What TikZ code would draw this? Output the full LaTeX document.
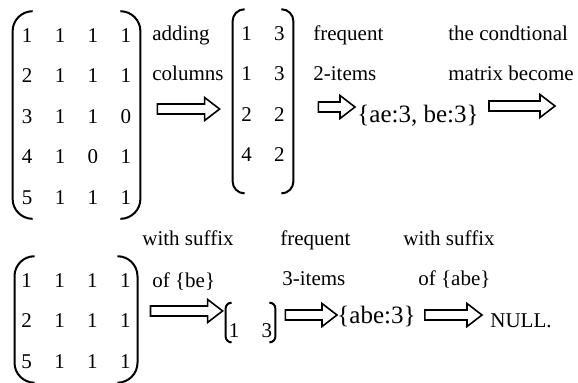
\documentclass[tikz,border=0pt]{standalone}
\usepackage{fontspec}
\setmainfont{Liberation Serif}
\usetikzlibrary{calc}
\tikzset{
  mat/.style={inner ysep=1pt,inner xsep=4pt,anchor=base,font=\fontsize{10.5}{12}\selectfont,
    execute at begin node={\renewcommand{\arraystretch}{1.69}\setlength{\tabcolsep}{5.6pt}}},
  paren/.style={line width=1pt},
  lbl/.style={anchor=base west,inner sep=0pt,font=\fontsize{10.5}{12}\selectfont},
  res/.style={anchor=base west,inner sep=0pt,font=\fontsize{12.5}{14}\selectfont},
  hollow/.style={draw,line width=0.8pt,line join=miter,to path={
    let \p1=(\tikztostart), \p2=(\tikztotarget) in
    (\x1,\y1+2.5pt) -- (\x2-7.5pt,\y1+2.5pt) -- (\x2-7.5pt,\y1+5.75pt) -- (\x2,\y1)
    -- (\x2-7.5pt,\y1-5.75pt) -- (\x2-7.5pt,\y1-2.5pt) -- (\x1,\y1-2.5pt) -- cycle}},
}
\begin{document}
\begin{tikzpicture}[x=0.5pt,y=-0.5pt]
  \useasboundingbox (0,0) rectangle (578,382);

  % matrices
  \node[mat,inner xsep=4.45pt] (m1) at (76.5,42) {\begin{tabular}[t]{@{}cccc@{}}
    1&1&1&1\\2&1&1&1\\3&1&1&0\\4&1&0&1\\5&1&1&1\end{tabular}};
  \node[mat,inner xsep=4.15pt,text depth=75.5pt] (m2) at (263,40) {\begin{tabular}[t]{@{}cc@{}}
    1&3\\1&3\\2&2\\4&2\end{tabular}};
  \node[mat,inner xsep=3.25pt] (m3) at (76,287) {\begin{tabular}[t]{@{}cccc@{}}
    1&1&1&1\\2&1&1&1\\5&1&1&1\end{tabular}};
  \node[mat,inner xsep=1.4pt,text height=16pt,text depth=1.5pt] (m4) at (250.5,337) {\begin{tabular}[t]{@{}cc@{}}
    1&3\end{tabular}};
  \foreach \m/\rad in {m1/10pt,m2/6pt,m3/10pt,m4/3pt}{
    \draw[paren,rounded corners=\rad] ([xshift=\rad]\m.north west) -- (\m.north west)
      -- (\m.south west) -- ([xshift=\rad]\m.south west);
    \draw[paren,rounded corners=\rad] ([xshift=-\rad]\m.north east) -- (\m.north east)
      -- (\m.south east) -- ([xshift=-\rad]\m.south east);
  }

  % labels
  \node[lbl] (add) at (152,40) {adding};
  \node[lbl] (cols) at (152,80) {columns};
  \node[lbl] (freq2) at (313,40) {frequent};
  \node[lbl] (two) at (313,80) {2-items};
  \node[lbl] (cond) at (448,40) {the condtional};
  \node[lbl] (becm) at (448,80) {matrix become};
  \node[res] (ae) at (357,122) {\{ae:3, be:3\}};
  \node[lbl] (suf1) at (142,245) {with suffix};
  \node[lbl] (ofbe) at (152,287) {of \{be\}};
  \node[lbl] (freq3) at (280,245) {frequent};
  \node[lbl] (three) at (282,285) {3-items};
  \node[lbl] (suf2) at (403,245) {with suffix};
  \node[lbl] (ofabe) at (418,285) {of \{abe\}};
  \node[res] (abe) at (337,323) {\{abe:3\}};
  \node[lbl] (null) at (490,327) {NULL.};

  % hollow arrows
  \coordinate (next) at (555,106);
  \draw[hollow] ([xshift=8.5pt,yshift=3pt]m1.east) to ([xshift=-6.5pt]m2.west);
  \draw[hollow] ([xshift=12.5pt,yshift=-2.85pt]m2.east) to ([xshift=-1pt]ae.base west);
  \draw[hollow] ([xshift=5pt,yshift=8pt]ae.base east) to (next);
  \draw[hollow] ([xshift=6.5pt,yshift=4.25pt]m3.east) to ([xshift=-1.5pt]m4.west);
  \draw[hollow] ([xshift=5pt,yshift=3.75pt]m4.east) to (abe.base west);
  \draw[hollow] ([xshift=4.5pt,yshift=4pt]abe.base east) to ([xshift=-4pt]null.base west);
\end{tikzpicture}
\end{document}
